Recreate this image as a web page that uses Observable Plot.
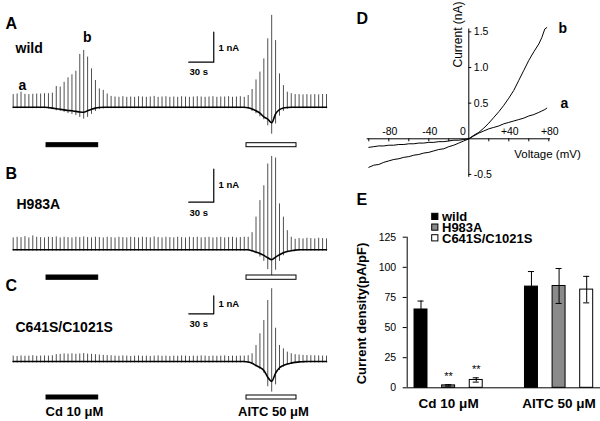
<!DOCTYPE html>
<html><head><meta charset="utf-8">
<script src="https://cdn.jsdelivr.net/npm/d3@7"></script>
<script src="https://cdn.jsdelivr.net/npm/@observablehq/plot@0.6"></script>
<style>
body{margin:0;background:#fff}
#fig{position:relative;width:600px;height:421px;overflow:hidden;background:#fff}
#fig svg{position:absolute}
</style></head><body><div id="fig"></div>
<script>
// ---------------- DATA ----------------
const rampInterval = 4.7;           // s between voltage ramps
const genotypes = ["wild", "H983A", "C641S/C1021S"];
const drugNames = ["Cd 10 μM", "AITC 50 μM"];
const drugStart = [40, 280];        // s
const drugEnd = [102, 340];         // s
const scaleBarTime = 30;            // s
const scaleBarCurrent = 1;          // nA

// ramp current peaks (+80 mV end, nA), ramp troughs (-80 mV end, nA), holding current (nA)
const topA = [0.42,0.44,0.50,0.43,0.42,0.43,0.44,0.44,0.45,0.45,0.47,
  0.69,0.67,0.83,0.98,1.08,1.20,1.76,1.89,1.67,1.28,0.89,0.61,0.56,0.44,0.36,
  0.34,0.33,0.35,0.33,0.34,0.33,0.35,0.34,0.33,0.34,0.36,0.33,0.34,0.35,0.33,0.34,0.33,0.35,0.34,0.33,0.34,0.35,0.34,0.33,0.34,0.35,0.33,0.34,0.34,0.35,0.33,0.34,0.35,
  0.33,0.39,0.59,0.91,1.17,1.61,2.28,3.06,2.22,1.11,0.72,0.50,0.45,
  0.42,0.42,0.41,0.42,0.41,0.42,0.41,0.42,0.42];
const bottomA = [-0.05,-0.05,-0.05,-0.05,-0.05,-0.05,-0.05,-0.05,-0.05,-0.06,-0.07,
  -0.12,-0.14,-0.17,-0.21,-0.24,-0.28,-0.34,-0.40,-0.34,-0.24,-0.14,-0.08,-0.06,-0.05,-0.05,
  -0.05,-0.05,-0.05,-0.05,-0.05,-0.05,-0.05,-0.05,-0.05,-0.05,-0.05,-0.05,-0.05,-0.05,-0.05,-0.05,-0.05,-0.05,-0.05,-0.05,-0.05,-0.05,-0.05,-0.05,-0.05,-0.05,-0.05,-0.05,-0.05,-0.05,-0.05,-0.05,-0.05,
  -0.05,-0.06,-0.14,-0.22,-0.32,-0.42,-0.62,-0.90,-0.56,-0.30,-0.14,-0.07,-0.05,
  -0.05,-0.05,-0.05,-0.05,-0.05,-0.05,-0.05,-0.05,-0.05];
const holdA = [0,0,0,0,0,0,0,0,0,-0.01,-0.03,
  -0.05,-0.07,-0.09,-0.11,-0.12,-0.14,-0.16,-0.17,-0.12,-0.07,-0.03,-0.01,0,0,0,
  0,0,0,0,0,0,0,0,0,0,0,0,0,0,0,0,0,0,0,0,0,0,0,0,0,0,0,0,0,0,0,0,0,
  0,-0.02,-0.06,-0.12,-0.20,-0.32,-0.40,-0.52,-0.22,-0.08,-0.03,-0.01,0,
  0,0,0,0,0,0,0,0,0];

const topB = [0.36,0.38,0.37,0.40,0.36,0.42,0.38,0.37,0.36,0.38,0.37,0.39,0.36,0.38,0.37,0.36,0.38,0.37,0.39,0.37,0.36,0.38,0.37,0.36,0.38,0.37,0.36,0.38,0.37,0.36,
  0.38,0.37,0.36,0.38,0.37,0.36,0.39,0.37,0.36,0.38,0.37,0.36,0.38,0.37,0.36,0.38,0.37,0.38,0.36,0.37,0.38,0.36,0.37,0.38,0.36,0.37,0.38,0.36,0.37,0.38,
  0.38,0.52,0.99,1.49,1.94,2.60,2.83,2.78,1.39,0.99,0.58,0.38,0.32,
  0.34,0.33,0.35,0.34,0.33,0.35,0.34,0.33];
const bottomB = [-0.04,-0.04,-0.04,-0.04,-0.04,-0.04,-0.04,-0.04,-0.04,-0.04,-0.04,-0.04,-0.04,-0.04,-0.04,-0.04,-0.04,-0.04,-0.04,-0.04,-0.04,-0.04,-0.04,-0.04,-0.04,-0.04,-0.04,-0.04,-0.04,-0.04,
  -0.04,-0.04,-0.04,-0.04,-0.04,-0.04,-0.04,-0.04,-0.04,-0.04,-0.04,-0.04,-0.04,-0.04,-0.04,-0.04,-0.04,-0.04,-0.04,-0.04,-0.04,-0.04,-0.04,-0.04,-0.04,-0.04,-0.04,-0.04,-0.04,-0.04,
  -0.04,-0.06,-0.12,-0.22,-0.35,-0.60,-0.85,-0.62,-0.35,-0.18,-0.08,-0.05,-0.04,
  -0.04,-0.04,-0.04,-0.04,-0.04,-0.04,-0.04,-0.04];
const holdB = [0,0,0,0,0,0,0,0,0,0,0,0,0,0,0,0,0,0,0,0,0,0,0,0,0,0,0,0,0,0,
  0,0,0,0,0,0,0,0,0,0,0,0,0,0,0,0,0,0,0,0,0,0,0,0,0,0,0,0,0,0,
  0,-0.03,-0.07,-0.11,-0.17,-0.24,-0.30,-0.22,-0.15,-0.09,-0.05,-0.03,-0.01,
  0,0,0,0,0,0,0,0];

const topC = [0.30,0.28,0.31,0.29,0.30,0.32,0.29,0.30,0.31,0.30,0.32,
  0.38,0.40,0.42,0.41,0.43,0.40,0.42,0.44,0.41,0.40,0.38,0.36,0.34,0.33,0.32,
  0.30,0.29,0.31,0.30,0.28,0.30,0.31,0.29,0.30,0.28,0.30,0.31,0.29,0.30,0.28,0.30,0.29,0.31,0.30,0.28,0.30,0.29,0.31,0.30,0.28,0.30,0.29,0.30,0.31,0.28,0.30,0.29,0.30,0.30,
  0.32,0.43,0.89,1.54,2.28,3.39,4.04,1.85,0.89,0.70,0.52,0.43,0.38,
  0.36,0.34,0.33,0.32,0.32,0.31,0.30,0.30];
const bottomC = [-0.08,-0.08,-0.08,-0.08,-0.08,-0.08,-0.08,-0.08,-0.08,-0.08,-0.08,-0.08,-0.08,-0.08,-0.08,-0.08,-0.08,-0.08,-0.08,-0.08,-0.08,-0.08,-0.08,-0.08,-0.08,-0.08,-0.08,-0.08,-0.08,-0.08,
  -0.08,-0.08,-0.08,-0.08,-0.08,-0.08,-0.08,-0.08,-0.08,-0.08,-0.08,-0.08,-0.08,-0.08,-0.08,-0.08,-0.08,-0.08,-0.08,-0.08,-0.08,-0.08,-0.08,-0.08,-0.08,-0.08,-0.08,-0.08,-0.08,-0.08,
  -0.10,-0.15,-0.30,-0.45,-0.65,-1.40,-1.70,-1.30,-0.50,-0.30,-0.18,-0.12,-0.09,
  -0.08,-0.08,-0.08,-0.08,-0.08,-0.08,-0.08,-0.08];
const holdC = [0,0,0,0,0,0,0,0,0,0,0,0,0,0,0,0,0,0,0,0,0,0,0,0,0,0,0,0,0,0,
  0,0,0,0,0,0,0,0,0,0,0,0,0,0,0,0,0,0,0,0,0,0,0,0,0,0,0,0,0,0,
  -0.03,-0.10,-0.22,-0.33,-0.50,-0.87,-1.10,-0.65,-0.35,-0.22,-0.14,-0.09,-0.05,
  -0.02,-0.01,0,0,0,0,0,0];

// I-V relations (panel D)
const ivVoltage = [-100,-95,-90,-85,-80,-75,-70,-65,-60,-55,-50,-45,-40,-35,-30,-25,-20,-15,-10,-5,0,5,10,15,20,25,30,35,40,45,50,55,60,65,70,73,76,78];
const ivB = [-0.40,-0.37,-0.36,-0.33,-0.31,-0.29,-0.28,-0.26,-0.25,-0.23,-0.22,-0.20,-0.19,-0.17,-0.15,-0.14,-0.11,-0.09,-0.06,-0.03,0.00,0.05,0.09,0.15,0.22,0.30,0.38,0.47,0.57,0.68,0.82,0.96,1.10,1.22,1.33,1.42,1.54,1.56];
const ivA = [-0.12,-0.11,-0.10,-0.10,-0.09,-0.09,-0.08,-0.08,-0.07,-0.07,-0.06,-0.06,-0.05,-0.05,-0.04,-0.04,-0.03,-0.02,-0.02,-0.01,0.00,0.04,0.08,0.11,0.14,0.16,0.18,0.21,0.23,0.25,0.27,0.29,0.32,0.34,0.37,0.39,0.41,0.43];
const ivXTickLabels = [-80, -40, 0, 40, 80];
const ivXMinorTicks = [-100, -80, -60, -40, -20, 20, 40, 60, 80];
const ivYTickLabels = [1.5, 1.0, 0.5, -0.5];

// Current density (panel E)
const densityGroups = ["Cd 10 μM", "AITC 50 μM"];
const densityMean = {"wild": [65, 84], "H983A": [2, 84.5], "C641S/C1021S": [6.5, 81.5]};
const densitySem = {"wild": [7, 12.5], "H983A": [0.6, 14.5], "C641S/C1021S": [1.8, 11]};
const densitySig = {"wild": ["", ""], "H983A": ["**", ""], "C641S/C1021S": ["**", ""]};
const densityTicks = [0, 25, 50, 75, 100, 125];

// ---------------- STYLE / LAYOUT ----------------
const FONT = '"Liberation Sans", Arial, Helvetica, sans-serif';
const seriesFill = {"wild": "#000", "H983A": "#8a8a8a", "C641S/C1021S": "#fff"};
const fig = document.getElementById("fig");
function place(svg, left, top) {
  svg.style.left = left + "px"; svg.style.top = top + "px";
  svg.style.overflow = "visible"; svg.style.background = "transparent";
  fig.appendChild(svg);
}

// ---------- Panels A, B, C: current traces ----------
const traces = [
  {top: topA, bottom: bottomA, hold: holdA},
  {top: topB, bottom: bottomB, hold: holdB},
  {top: topC, bottom: bottomC, hold: holdC}
];
const traceLayout = [
  {top: 0,   height: 150, zero: 106.7, k: 30, barPx: [142.7, 146.7], scalePx: 61.7},
  {top: 150, height: 135, zero: 249.3, k: 33, barPx: [275, 279.3],   scalePx: 201.7},
  {top: 285, height: 136, zero: 361,   k: 18, barPx: [395, 399],     scalePx: 313.3}
];
const traceRange = [12.7, 326];
const scaleBarEnd = 240.7; // s
const drugs = drugNames.map((name, i) => ({name, start: drugStart[i], end: drugEnd[i]}));

traces.forEach((tr, idx) => {
  const L = traceLayout[idx];
  const toNA = px => (L.zero - px) / L.k;
  const rows = tr.top.map((v, i) => ({t: i * rampInterval, top: v, bottom: tr.bottom[i], hold: tr.hold[i]}));
  const y0 = toNA(L.scalePx);
  const bar = [
    {t: scaleBarEnd - scaleBarTime, c: y0},
    {t: scaleBarEnd, c: y0},
    {t: scaleBarEnd, c: y0 + scaleBarCurrent}
  ];
  const svg = Plot.plot({
    width: 340, height: L.height, margin: 0,
    style: {fontFamily: FONT, background: "transparent"},
    x: {domain: [0, (rows.length - 1) * rampInterval], range: traceRange, axis: null},
    y: {domain: [toNA(L.top + L.height), toNA(L.top)], range: [L.height, 0], axis: null},
    marks: [
      Plot.ruleX(rows, {x: "t", y1: "bottom", y2: "top", stroke: "#505050", strokeWidth: 1}),
      Plot.line(rows, {x: "t", y: "hold", stroke: "#000", strokeWidth: 1.6, curve: "monotone-x"}),
      Plot.rect([drugs[0]], {x1: "start", x2: "end", y1: toNA(L.barPx[1]), y2: toNA(L.barPx[0]), fill: "#000", stroke: "#000"}),
      Plot.rect([drugs[1]], {x1: "start", x2: "end", y1: toNA(L.barPx[1]), y2: toNA(L.barPx[0]), fill: "#fff", stroke: "#000", strokeWidth: 1}),
      Plot.line(bar, {x: "t", y: "c", stroke: "#000", strokeWidth: 1.2})
    ]
  });
  place(svg, 0, L.top);
});

// ---------- Panel D: I-V ----------
const D = {left: 340, top: 0, width: 260, height: 195, zeroX: 128.3, zeroY: 138.3, kx: 1, ky: 71.3};
const ivRows = ivVoltage.map((v, i) => ({v, a: ivA[i], b: ivB[i]}));
const tickLenD = 3;
const svgD = Plot.plot({
  width: D.width, height: D.height, margin: 0,
  style: {fontFamily: FONT, background: "transparent"},
  x: {domain: [-100, 80], range: [D.zeroX - 100 * D.kx, D.zeroX + 80 * D.kx], axis: null},
  y: {domain: [-0.5, 1.5], range: [D.zeroY + 0.5 * D.ky, D.zeroY - 1.5 * D.ky], axis: null},
  marks: [
    Plot.ruleY([0], {x1: -101.6, x2: 81.7, stroke: "#000", strokeWidth: 1}),
    Plot.ruleX([0], {y1: -0.54, y2: 1.54, stroke: "#000", strokeWidth: 1}),
    Plot.ruleX(ivXMinorTicks, {x: d => d, y1: 0, y2: -tickLenD / D.ky, stroke: "#000"}),
    Plot.ruleY(ivYTickLabels, {y: d => d, x1: 0, x2: tickLenD / D.kx, stroke: "#000"}),
    Plot.text(ivXTickLabels.filter(d => d !== 0), {x: d => d, y: 0, text: d => d > 0 ? `+${d}` : `${d}`, dy: -7.5, dx: 1, fontSize: 10.5}),
    Plot.text(ivXTickLabels.filter(d => d === 0), {x: d => d, y: 0, text: d => `${d}`, dy: -7.5, dx: -6, fontSize: 10.5}),
    Plot.text(ivYTickLabels, {x: 0, y: d => d, text: d => d.toFixed(1), dx: 5, textAnchor: "start", fontSize: 10.5}),
    Plot.line(ivRows, {x: "v", y: "b", stroke: "#000", strokeWidth: 1}),
    Plot.line(ivRows, {x: "v", y: "a", stroke: "#000", strokeWidth: 1})
  ]
});
place(svgD, D.left, D.top);

// ---------- Panel E: current density ----------
const E = {left: 340, top: 195, width: 260, height: 226, mLeft: 66.7, mTop: 41.7, mBottom: 33.7};
const barHalf = 0.235, capHalf = 0.11;
const nS = genotypes.length;
const barRows = [];
densityGroups.forEach((g, gi) => genotypes.forEach((s, si) => barRows.push({
  group: g, series: s, pos: gi * (nS + 1) + si,
  mean: densityMean[s][gi], sem: densitySem[s][gi], sig: densitySig[s][gi]
})));
const svgE = Plot.plot({
  width: E.width, height: E.height,
  marginLeft: E.mLeft, marginRight: 0, marginTop: E.mTop, marginBottom: E.mBottom,
  style: {fontFamily: FONT, background: "transparent"},
  x: {domain: [-0.5, densityGroups.length * (nS + 1) - 1.5], axis: null},
  y: {domain: [0, 125], axis: null},
  marks: [
    ...genotypes.map(s => Plot.rect(barRows.filter(d => d.series === s), {
      x1: d => d.pos - barHalf, x2: d => d.pos + barHalf, y1: 0, y2: "mean",
      fill: seriesFill[s], stroke: "#000", strokeWidth: 1})),
    Plot.ruleX(barRows, {x: "pos", y1: d => d.mean - d.sem, y2: d => d.mean + d.sem, stroke: "#000", strokeWidth: 1}),
    Plot.ruleY(barRows, {y: d => d.mean + d.sem, x1: d => d.pos - capHalf, x2: d => d.pos + capHalf, stroke: "#000", strokeWidth: 1}),
    Plot.ruleY(barRows, {y: d => d.mean - d.sem, x1: d => d.pos - capHalf, x2: d => d.pos + capHalf, stroke: "#000", strokeWidth: 1}),
    Plot.text(barRows.filter(d => d.sig), {x: "pos", y: d => d.mean + d.sem, text: "sig", dy: -8, fontSize: 11}),
    Plot.ruleX([-0.5], {y1: 0, y2: 125, stroke: "#000"}),
    Plot.ruleY([0], {stroke: "#000"}),
    Plot.axisY({ticks: densityTicks, tickSize: 4, tickPadding: 7, fontSize: 10.5, label: null}),
    Plot.text(densityGroups, {x: (d, i) => i * (nS + 1) + (nS - 1) / 2, y: 0, text: d => d, dy: 16, fontSize: 13.5, fontWeight: "bold"})
  ]
});
place(svgE, E.left, E.top);

// ---------- Overlay annotations ----------
const ann = [
  {text: "A", x: 5, y: 28, size: 16, bold: true},
  {text: genotypes[0], x: 15, y: 52, size: 14, bold: true},
  {text: "a", x: 18, y: 89, size: 14, bold: true},
  {text: "b", x: 82.5, y: 41.5, size: 14, bold: true},
  {text: `${scaleBarCurrent} nA`, x: 218, y: 50, size: 9.5, bold: true},
  {text: `${scaleBarTime} s`, x: 189, y: 74.5, size: 9.5, bold: true},
  {text: "B", x: 5, y: 178.5, size: 16, bold: true},
  {text: genotypes[1], x: 16, y: 208.5, size: 14, bold: true},
  {text: `${scaleBarCurrent} nA`, x: 218, y: 187, size: 9.5, bold: true},
  {text: `${scaleBarTime} s`, x: 189, y: 215, size: 9.5, bold: true},
  {text: "C", x: 5, y: 290.5, size: 16, bold: true},
  {text: genotypes[2], x: 15, y: 331.5, size: 14, bold: true},
  {text: `${scaleBarCurrent} nA`, x: 218, y: 306.5, size: 9.5, bold: true},
  {text: `${scaleBarTime} s`, x: 189, y: 326.5, size: 9.5, bold: true},
  {text: drugNames[0], x: 45, y: 415, size: 13, bold: true},
  {text: drugNames[1], x: 237.5, y: 415, size: 13, bold: true},
  {text: "D", x: 356, y: 23.5, size: 16, bold: true},
  {text: "b", x: 558, y: 32.5, size: 14, bold: true},
  {text: "a", x: 560, y: 107.3, size: 14, bold: true},
  {text: "Voltage (mV)", x: 547, y: 157.5, size: 11.5, anchor: "middle"},
  {text: "Current (nA)", x: 458, cy: 34, size: 12, anchor: "middle", rotate: -90},
  {text: "E", x: 356, y: 204, size: 16, bold: true},
  {text: "Current density(pA/pF)", x: 361.7, cy: 313, size: 13, bold: true, anchor: "middle", rotate: -90},
  {text: genotypes[0], x: 441.5, y: 220.7, size: 13, bold: true},
  {text: genotypes[1], x: 441.5, y: 231.7, size: 13, bold: true},
  {text: genotypes[2], x: 441.5, y: 242.7, size: 13, bold: true}
];
const legendSquares = genotypes.map((s, i) => ({series: s, x1: 431.7, x2: 437.9, y1: [213.3, 224, 234.7][i], y2: [219.5, 230.2, 240.9][i]}));
const svgO = Plot.plot({
  width: 600, height: 421, margin: 0,
  style: {fontFamily: FONT, background: "transparent"},
  x: {domain: [0, 600], range: [0, 600], axis: null},
  y: {domain: [0, 421], range: [0, 421], axis: null},
  marks: [
    ...ann.map(a => Plot.text([a], {
      x: "x", y: d => d.cy !== undefined ? d.cy : d.y - 0.32 * d.size, text: "text",
      fontSize: a.size, fontWeight: a.bold ? "bold" : "normal",
      textAnchor: a.anchor || "start", rotate: a.rotate || 0, lineAnchor: "middle", fill: "#000"
    })),
    ...legendSquares.map(d => Plot.rect([d], {x1: "x1", x2: "x2", y1: "y1", y2: "y2", fill: seriesFill[d.series], stroke: "#000", strokeWidth: 1}))
  ]
});
svgO.style.pointerEvents = "none";
place(svgO, 0, 0);
</script></body></html>
